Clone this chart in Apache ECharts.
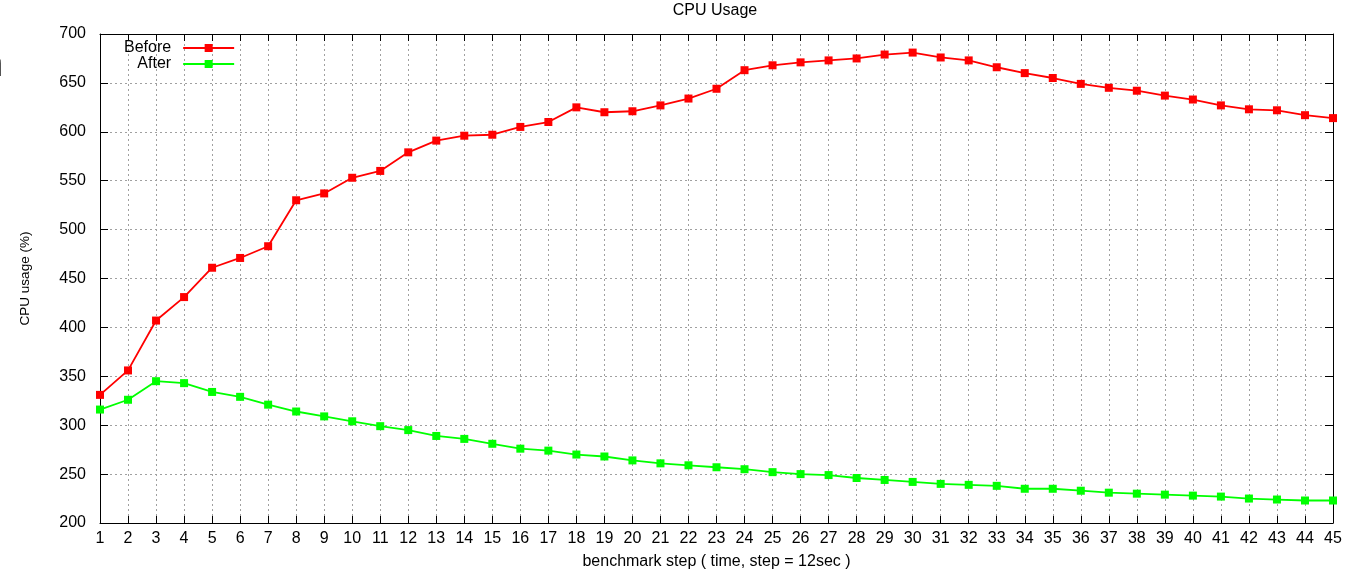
<!DOCTYPE html>
<html>
<head>
<meta charset="utf-8">
<script src="https://cdn.jsdelivr.net/npm/echarts@6/dist/echarts.min.js"></script>
<style>
html,body{margin:0;padding:0;background:#fff;}
#chart{width:1354px;height:570px;}
</style>
</head>
<body>
<div id="chart"></div>
<script>
const steps = ['1','2','3','4','5','6','7','8','9','10','11','12','13','14','15','16','17','18','19','20','21','22','23','24','25','26','27','28','29','30','31','32','33','34','35','36','37','38','39','40','41','42','43','44','45'];
const before = [331,356,407,431,461,471,483,530,537,553,560,579,591,596,597,605,610,625,620,621,627,634,644,663,668,671,673,675,679,681,676,673,666,660,655,649,645,642,637,633,627,623,622,617,614];
const after = [316,326,345,343,334,329,321,314,309,304,299,295,289,286,281,276,274,270,268,264,261,259,257,255,252,250,249,246,244,242,240,239,238,235,235,233,231,230,229,228,227,225,224,223,223];
const titleText = 'CPU Usage';
const xName = 'benchmark step ( time, step = 12sec )';
const yName = 'CPU usage (%)';

const FONT = "'Liberation Sans', Arial, sans-serif";
const chart = echarts.init(document.getElementById('chart'), null, {renderer:'canvas'});
const gridLine = {show:true, lineStyle:{color:'#a0a0a0', type:[2,3], width:1}};
const axisLineStyle = {show:true, onZero:false, lineStyle:{color:'#000', width:1}};
chart.setOption({
  animation:false,
  backgroundColor:'#fff',
  title:{text:titleText, left:715, top:3, padding:0, textAlign:'center',
    textStyle:{fontFamily:FONT, fontSize:16, fontWeight:'normal', color:'#000'}},
  legend:{
    orient:'vertical', left:124, top:40, padding:0, align:'right', itemWidth:51, itemHeight:10, itemGap:0,
    textStyle:{fontFamily:FONT, fontSize:16, color:'#000', lineHeight:16, padding:[0,7,0,0]},
    data:['Before','After']
  },
  grid:{left:100, right:21, top:34, bottom:47, containLabel:false, outerBoundsMode:'none'},
  xAxis:[{
    type:'category', data:steps, boundaryGap:false,
    name:xName, nameLocation:'middle', nameGap:31,
    nameTextStyle:{fontFamily:FONT, fontSize:16, color:'#000'},
    axisLine:axisLineStyle,
    axisTick:{show:true, inside:true, length:7, lineStyle:{color:'#000'}},
    axisLabel:{fontFamily:FONT, fontSize:16, color:'#000', margin:8, interval:0},
    splitLine:gridLine
  },{
    type:'category', data:steps, boundaryGap:false, position:'top',
    axisLine:axisLineStyle,
    axisTick:{show:true, inside:true, length:7, lineStyle:{color:'#000'}},
    axisLabel:{show:false}, splitLine:{show:false}
  }],
  yAxis:[{
    type:'value', min:200, max:700, interval:50,
    name:yName, nameLocation:'middle', nameGap:68, nameRotate:90,
    nameTextStyle:{fontFamily:FONT, fontSize:13.5, color:'#000'},
    axisLine:axisLineStyle,
    axisTick:{show:true, inside:true, length:8, lineStyle:{color:'#000'}},
    axisLabel:{fontFamily:FONT, fontSize:16, color:'#000', margin:14},
    splitLine:gridLine
  },{
    type:'value', min:200, max:700, interval:50, position:'right',
    axisLine:axisLineStyle,
    axisTick:{show:true, inside:true, length:8, lineStyle:{color:'#000'}},
    axisLabel:{show:false}, splitLine:{show:false}
  }],
  graphic:[{
    type:'text', left:-17, top:48,
    style:{text:'n', fontFamily:FONT, fontSize:36, fill:'#000'}
  }],
  series:[{
    name:'Before', type:'line', data:before, symbol:'rect', symbolSize:8,
    itemStyle:{color:'#ff0000'}, lineStyle:{color:'#ff0000', width:1.8}
  },{
    name:'After', type:'line', data:after, symbol:'rect', symbolSize:8,
    itemStyle:{color:'#00ff00'}, lineStyle:{color:'#00ff00', width:1.8}
  }]
});
</script>
</body>
</html>
